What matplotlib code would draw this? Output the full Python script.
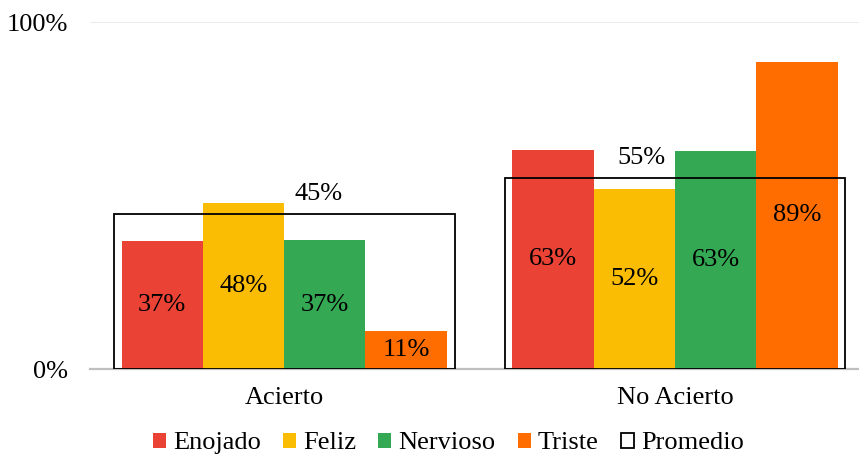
import numpy as np
import matplotlib
matplotlib.use('Agg')
import matplotlib.pyplot as plt

plt.rcParams['font.family'] = ['Liberation Serif', 'DejaVu Serif']

groups = ['Acierto', 'No Acierto']
series = ['Enojado', 'Feliz', 'Nervioso', 'Triste']
values = {
    'Enojado': [37, 63.3],
    'Feliz': [48, 52],
    'Nervioso': [37.2, 62.8],
    'Triste': [11, 88.7],
}
promedio = [44.8, 55.2]
colors = ['#EA4335', '#FBBC04', '#34A853', '#FF6D01']

FS = 19

fig = plt.figure(figsize=(8.59, 4.59), dpi=100)
ax = fig.add_axes([90 / 859, 0.196, 1 - 90 / 859, 0.755])

ind = np.arange(len(groups))
width = 0.208

# average as empty outlined box over the bars
ax.bar(ind, promedio, 0.872, facecolor='none', edgecolor='black',
       linewidth=1.3, zorder=3, label='Promedio')

for i, (name, col) in enumerate(zip(series, colors)):
    pos = ind + (i - 1.5) * width
    ax.bar(pos, values[name], width, color=col, zorder=2, label=name)
    for x, v in zip(pos, values[name]):
        ax.text(x, v / 2, '%.0f%%' % v, ha='center', va='center',
                fontsize=FS, zorder=4)

# average labels, a bit off centre like the original
for x, v, dx in zip(ind, promedio, [34, -34]):
    ax.annotate('%.0f%%' % v, (x, v), xytext=(dx, 20),
                textcoords='offset pixels', ha='center', va='center',
                fontsize=FS, zorder=4)

ax.set_xlim(-0.497, 1.471)
ax.set_ylim(0, 100)
ax.set_yticks([0, 100])
ax.set_yticklabels(['0%', '100%'])
ax.set_xticks(ind)
ax.set_xticklabels(groups)
ax.tick_params(axis='both', length=0, labelsize=FS)
ax.tick_params(axis='y', pad=16)
ax.tick_params(axis='x', pad=13)
ax.grid(axis='y', color='#E6E6E6', linewidth=1.2, zorder=0)
ax.set_axisbelow(True)
for s in ['top', 'right', 'left']:
    ax.spines[s].set_visible(False)
ax.spines['bottom'].set_color('#BFBFBF')
ax.spines['bottom'].set_linewidth(1.6)
ax.spines['bottom'].set_zorder(1)

handles, labels = ax.get_legend_handles_labels()
order = labels.index('Promedio')
handles = handles[:order] + handles[order + 1:] + [handles[order]]
labels = labels[:order] + labels[order + 1:] + [labels[order]]
fig.legend(handles, labels, loc='center', bbox_to_anchor=(0.522, 0.034),
           ncol=5, frameon=False, fontsize=FS, handlelength=0.5,
           handleheight=0.5, handletextpad=0.27, columnspacing=0.83,
           borderpad=0)

plt.savefig('out.png', dpi=100)
